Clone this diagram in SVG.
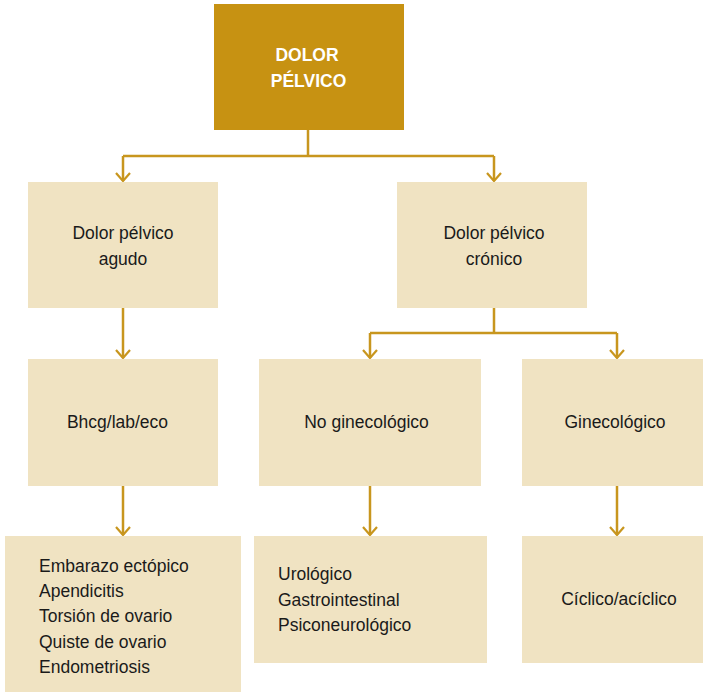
<svg xmlns="http://www.w3.org/2000/svg" width="703" height="693" viewBox="0 0 703 693">
<defs>
<style>
.box{fill:#F0E3C2}
.top{fill:#C79212}
.t{font-family:"Liberation Sans",Arial,sans-serif;font-size:17.5px;fill:#1a1a1a}
.c{text-anchor:middle}
.h{font-family:"Liberation Sans",Arial,sans-serif;font-size:17.5px;font-weight:bold;fill:#ffffff;text-anchor:middle}
.ln{fill:none;stroke:#C8961E;stroke-width:2.5}
</style>
<marker id="ah" viewBox="0 0 12 16" refX="11" refY="8" markerWidth="12" markerHeight="16" markerUnits="userSpaceOnUse" orient="auto">
<path d="M3,1 L11,8 L3,15" fill="none" stroke="#C8961E" stroke-width="2.2"/>
</marker>
</defs>
<rect width="703" height="693" fill="#ffffff"/>
<g id="connectors">
<path class="ln" d="M308,130 V156 M123,156 H494"/>
<path class="ln" d="M123,156 V181" marker-end="url(#ah)"/>
<path class="ln" d="M494,156 V181" marker-end="url(#ah)"/>
<path class="ln" d="M123,308 V358" marker-end="url(#ah)"/>
<path class="ln" d="M494,308 V333 M370,333 H617"/>
<path class="ln" d="M370,333 V358" marker-end="url(#ah)"/>
<path class="ln" d="M617,333 V358" marker-end="url(#ah)"/>
<path class="ln" d="M123,486 V535" marker-end="url(#ah)"/>
<path class="ln" d="M370,486 V535" marker-end="url(#ah)"/>
<path class="ln" d="M617,486 V535" marker-end="url(#ah)"/>
</g>
<g id="root">
<rect class="top" x="214" y="4" width="190" height="126"/>
<text class="h" x="307" y="61">DOLOR</text>
<text class="h" x="308.5" y="87">PÉLVICO</text>
</g>
<g id="agudo">
<rect class="box" x="28" y="182" width="190" height="126"/>
<text class="t c" x="123" y="239">Dolor pélvico</text>
<text class="t c" x="123" y="265">agudo</text>
</g>
<g id="cronico">
<rect class="box" x="397" y="182" width="190" height="126"/>
<text class="t c" x="494" y="239">Dolor pélvico</text>
<text class="t c" x="494" y="265">crónico</text>
</g>
<g id="bhcg">
<rect class="box" x="28" y="359" width="190" height="127"/>
<text class="t c" x="117.5" y="428">Bhcg/lab/eco</text>
</g>
<g id="nogine">
<rect class="box" x="259" y="359" width="222" height="127"/>
<text class="t c" x="366.5" y="428">No ginecológico</text>
</g>
<g id="gine">
<rect class="box" x="522" y="359" width="181" height="127"/>
<text class="t c" x="615" y="428">Ginecológico</text>
</g>
<g id="lista-agudo">
<rect class="box" x="5" y="536" width="236" height="156"/>
<text class="t" x="39" y="572">Embarazo ectópico</text>
<text class="t" x="39" y="597">Apendicitis</text>
<text class="t" x="39" y="622">Torsión de ovario</text>
<text class="t" x="39" y="648">Quiste de ovario</text>
<text class="t" x="39" y="673">Endometriosis</text>
</g>
<g id="lista-nogine">
<rect class="box" x="254" y="536" width="233" height="127"/>
<text class="t" x="278" y="580">Urológico</text>
<text class="t" x="278" y="606">Gastrointestinal</text>
<text class="t" x="278" y="631">Psiconeurológico</text>
</g>
<g id="ciclico">
<rect class="box" x="522" y="536" width="181" height="127"/>
<text class="t c" x="619" y="605">Cíclico/acíclico</text>
</g>
</svg>
